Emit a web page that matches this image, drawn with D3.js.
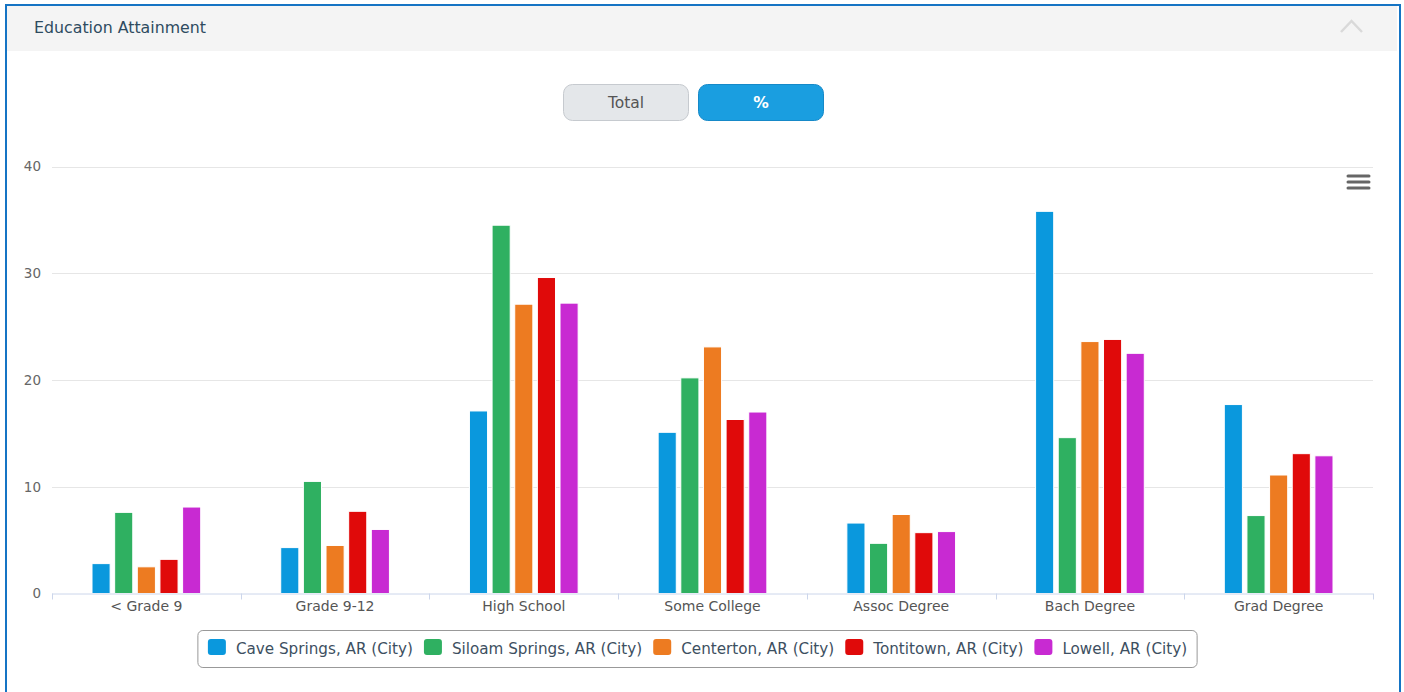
<!DOCTYPE html>
<html>
<head>
<meta charset="utf-8">
<script src="https://cdn.jsdelivr.net/npm/d3@7"></script>
<style>
  html, body { margin: 0; padding: 0; background: #fff; }
  svg { display: block; }
  text { font-family: "DejaVu Sans", Verdana, sans-serif; }
</style>
</head>
<body>
<svg id="chart" width="1404" height="692"></svg>
<script>
// Education attainment shares (%) by city
const categories = ["< Grade 9", "Grade 9-12", "High School", "Some College", "Assoc Degree", "Bach Degree", "Grad Degree"];
const seriesNames = ["Cave Springs, AR (City)", "Siloam Springs, AR (City)", "Centerton, AR (City)", "Tontitown, AR (City)", "Lowell, AR (City)"];
const caveSprings   = [2.8, 4.3, 17.1, 15.1, 6.6, 35.8, 17.7];
const siloamSprings = [7.6, 10.5, 34.5, 20.2, 4.7, 14.6, 7.3];
const centerton     = [2.5, 4.5, 27.1, 23.1, 7.4, 23.6, 11.1];
const tontitown     = [3.2, 7.7, 29.6, 16.3, 5.7, 23.8, 13.1];
const lowell        = [8.1, 6.0, 27.2, 17.0, 5.8, 22.5, 12.9];
const yTicks = [0, 10, 20, 30, 40];
const seriesColors = ["#0a98dd", "#2fb061", "#ed7b21", "#e00a0a", "#c82ad2"];

const seriesValues = [caveSprings, siloamSprings, centerton, tontitown, lowell];

const svg = d3.select("#chart");

// Panel frame and header
svg.append("rect").attr("x", 6).attr("y", 5).attr("width", 1394).attr("height", 700)
  .attr("fill", "#fff").attr("stroke", "#1574c4").attr("stroke-width", 2);
svg.append("rect").attr("x", 7).attr("y", 6).attr("width", 1390).attr("height", 45)
  .attr("fill", "#f4f4f4");
svg.append("text").attr("x", 34).attr("y", 33)
  .attr("font-size", 15.8).attr("fill", "#2e4b60").text("Education Attainment");
svg.append("path").attr("d", "M1341,32 L1351.5,21 L1362,32")
  .attr("fill", "none").attr("stroke", "#d9d9d9").attr("stroke-width", 2.5);

// Toggle buttons
const buttons = [
  { label: "Total", x: 563.5, fill: "#e4e7ea", stroke: "#c6cacf", color: "#555", weight: "normal" },
  { label: "%", x: 698.5, fill: "#1a9ee0", stroke: "#1689c8", color: "#fff", weight: "bold" }
];
const btn = svg.selectAll("g.btn").data(buttons).join("g").attr("class", "btn");
btn.append("rect").attr("x", d => d.x).attr("y", 84.5).attr("width", 125).attr("height", 36)
  .attr("rx", 9).attr("fill", d => d.fill).attr("stroke", d => d.stroke);
btn.append("text").attr("x", d => d.x + 62.5).attr("y", 108).attr("text-anchor", "middle")
  .attr("font-size", 15.5).attr("font-weight", d => d.weight).attr("fill", d => d.color)
  .text(d => d.label);

// Plot geometry
const plotLeft = 52, plotRight = 1373, plotTop = 166.5, plotBottom = 593.5;

const x0 = d3.scaleBand().domain(categories).range([plotLeft, plotRight]).padding(0);
const bw = x0.bandwidth();
const x1 = d3.scaleBand().domain(seriesNames).range([bw * 0.2, bw * 0.8])
  .paddingInner(0.2).paddingOuter(0.1);
const y = d3.scaleLinear().domain([0, 40]).range([plotBottom, plotTop]);

// Gridlines
svg.append("g").selectAll("line").data(yTicks.filter(t => t > 0)).join("line")
  .attr("x1", plotLeft).attr("x2", plotRight)
  .attr("y1", d => Math.round(y(d)) + 0.5).attr("y2", d => Math.round(y(d)) + 0.5)
  .attr("stroke", "#e6e6e6");

// Y axis labels
const yAxis = d3.axisLeft(y).tickValues(yTicks).tickSize(0).tickPadding(0);
const yg = svg.append("g").attr("transform", `translate(41,0)`).call(yAxis);
yg.select(".domain").remove();
yg.selectAll("text").attr("font-size", 13.5).attr("fill", "#666")
  .attr("font-family", "DejaVu Sans, Verdana, sans-serif").attr("dy", "0.32em");

// Bars
const groups = svg.append("g").selectAll("g").data(categories).join("g")
  .attr("transform", d => `translate(${x0(d)},0)`);
groups.selectAll("rect")
  .data((c, ci) => seriesNames.map((s, si) => ({ s, si, v: seriesValues[si][ci] })))
  .join("rect")
  .attr("x", d => x1(d.s))
  .attr("width", x1.bandwidth())
  .attr("y", d => y(d.v))
  .attr("height", d => y(0) - y(d.v))
  .attr("fill", (d) => seriesColors[d.si])
  .attr("stroke", "#fff").attr("stroke-width", 1);

// X axis
const xAxis = d3.axisBottom(x0).tickSize(0).tickPadding(8);
const xg = svg.append("g").attr("transform", `translate(0,${plotBottom})`).call(xAxis);
xg.select(".domain").attr("d", `M${plotLeft},0.5H${plotRight}`).attr("stroke", "#ccd6eb");
xg.selectAll("text").attr("font-size", 14).attr("fill", "#555")
  .attr("font-family", "DejaVu Sans, Verdana, sans-serif").attr("dy", "0.71em");
// Category boundary ticks
const bounds = categories.map(c => x0(c)).concat([plotRight]);
svg.append("g").selectAll("line").data(bounds).join("line")
  .attr("x1", d => Math.round(d) + 0.5).attr("x2", d => Math.round(d) + 0.5)
  .attr("y1", plotBottom).attr("y2", plotBottom + 6)
  .attr("stroke", "#ccd6eb");

// Context menu icon
svg.append("g").selectAll("line").data([0, 1, 2]).join("line")
  .attr("x1", 1348).attr("x2", 1369)
  .attr("y1", d => 176 + d * 6).attr("y2", d => 176 + d * 6)
  .attr("stroke", "#666").attr("stroke-width", 3).attr("stroke-linecap", "round");

// Legend
const legend = svg.append("g");
const legendBox = legend.append("rect").attr("y", 630.5).attr("height", 37)
  .attr("rx", 5).attr("fill", "#fff").attr("stroke", "#999");
let lx = 0;
const items = [];
seriesNames.forEach((name, i) => {
  const g = legend.append("g");
  g.append("rect").attr("x", lx).attr("y", 639).attr("width", 18).attr("height", 16)
    .attr("rx", 3).attr("fill", seriesColors[i]);
  const t = g.append("text").attr("x", lx + 28).attr("y", 653.5)
    .attr("font-size", 15.2).attr("fill", "#3d4f61").text(name);
  const w = t.node().getComputedTextLength();
  lx += 28 + w + 11;
  items.push(g);
});
const contentW = lx - 11;
const boxW = contentW + 20;
const boxX = (193 + 1202) / 2 - boxW / 2;
legendBox.attr("x", boxX).attr("width", boxW);
items.forEach(g => g.attr("transform", `translate(${boxX + 10},0)`));
</script>
</body>
</html>
